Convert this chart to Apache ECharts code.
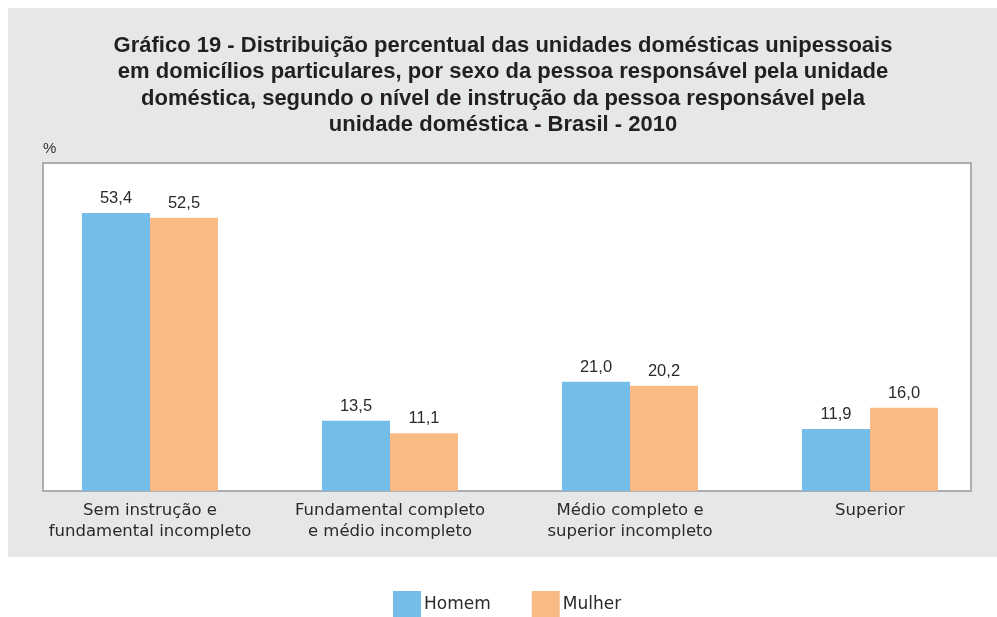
<!DOCTYPE html>
<html><head><meta charset="utf-8">
<script src="https://cdn.jsdelivr.net/npm/echarts@6/dist/echarts.min.js"></script>
<style>html,body{margin:0;padding:0;background:#fff;}#c{width:997px;height:617px;}</style>
</head><body><div id="c"></div>
<script>
const categories = ['Sem instrução e\nfundamental incompleto', 'Fundamental completo\ne médio incompleto', 'Médio completo e\nsuperior incompleto', 'Superior'];
const homem = [53.4, 13.5, 21.0, 11.9];
const mulher = [52.5, 11.1, 20.2, 16.0];
const seriesNames = ['Homem', 'Mulher'];
const titleText = 'Gráfico 19 - Distribuição percentual das unidades domésticas unipessoais\nem domicílios particulares, por sexo da pessoa responsável pela unidade\ndoméstica, segundo o nível de instrução da pessoa responsável pela\nunidade doméstica - Brasil - 2010';
const yUnit = '%';

const chart = echarts.init(document.getElementById('c'), null, {renderer: 'canvas'});
const fmt = p => p.value.toFixed(1).replace('.', ',');
const labelStyle = {show: true, position: 'top', distance: 6, formatter: fmt, color: '#2a2a2a', fontSize: 16.5, fontFamily: 'Liberation Sans, Arial, sans-serif'};
chart.setOption({
  animation: false,
  backgroundColor: '#fff',
  graphic: [
    {type: 'rect', z: -10, shape: {x: 8, y: 8, width: 989, height: 549}, style: {fill: '#E6E7E9'}},
    {type: 'text', z: 10, x: 43, y: 141, style: {text: yUnit, fill: '#333', fontSize: 15, fontFamily: 'Liberation Sans, Arial, sans-serif'}}
  ],
  title: {
    text: titleText, left: 503, top: 32.5, textAlign: 'center', padding: 0,
    textStyle: {fontSize: 22, fontWeight: 'bold', color: '#231F20', lineHeight: 26.5, fontFamily: 'Liberation Sans, Arial, sans-serif'}
  },
  legend: {
    top: 591, left: 393, padding: 0, itemWidth: 28, itemHeight: 28, itemGap: 41,
    data: seriesNames, icon: 'rect',
    textStyle: {fontSize: 17, color: '#2a2a2a', fontFamily: 'DejaVu Sans, sans-serif', padding: [0, 0, 0, -2]}
  },
  grid: [
    {left: 43, right: 26, top: 163, bottom: 126, show: true, backgroundColor: '#fff', borderColor: '#AEAEAE', borderWidth: 2},
    {left: 30, right: 7, top: 163, bottom: 126}
  ],
  xAxis: [
    {gridIndex: 0, type: 'category', data: categories, show: false},
    {gridIndex: 1, type: 'category', data: categories, axisLine: {show: false}, axisTick: {show: false},
     axisLabel: {interval: 0, margin: 9, fontSize: 16.5, lineHeight: 21, color: '#2a2a2a', fontFamily: 'DejaVu Sans, sans-serif'}}
  ],
  yAxis: [
    {gridIndex: 0, type: 'value', min: 0, max: 63, show: false},
    {gridIndex: 1, type: 'value', min: 0, max: 63, show: false}
  ],
  series: [
    {name: seriesNames[0], type: 'bar', xAxisIndex: 1, yAxisIndex: 1, data: homem, barWidth: 68, barGap: '0%', itemStyle: {color: '#74BDE8'}, label: labelStyle},
    {name: seriesNames[1], type: 'bar', xAxisIndex: 1, yAxisIndex: 1, data: mulher, barWidth: 68, barGap: '0%', itemStyle: {color: '#F9BA84'}, label: labelStyle}
  ]
});
</script></body></html>
